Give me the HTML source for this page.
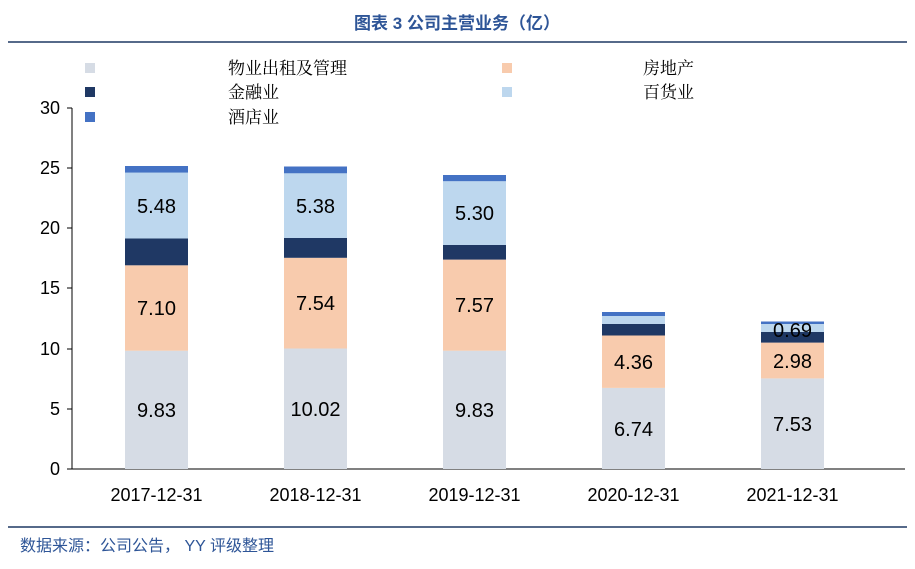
<!DOCTYPE html>
<html><head><meta charset="utf-8"><style>
body{margin:0;background:#fff;width:915px;height:564px;overflow:hidden;font-family:"Liberation Sans","Noto Sans CJK SC",sans-serif}
</style></head><body>
<svg width="915" height="564" xmlns="http://www.w3.org/2000/svg" font-family="Liberation Sans, Noto Sans CJK SC, sans-serif">
<text x="457" y="29" text-anchor="middle" font-size="17" font-weight="bold" fill="#2e5597">图表 3 公司主营业务（亿）</text>
<line x1="8" y1="42" x2="907" y2="42" stroke="#1f3864" stroke-width="1.5"/>
<line x1="8" y1="527" x2="907" y2="527" stroke="#1f3864" stroke-width="1.5"/>
<text x="20" y="551" font-size="16" fill="#2e5597">数据来源：公司公告， YY 评级整理</text>
<g font-family="'Noto Serif CJK SC', 'WenQuanYi Zen Hei', serif" font-size="17" fill="#000">
<rect x="85" y="63" width="10" height="10" fill="#d6dce5"/><text x="228" y="74">物业出租及管理</text>
<rect x="502" y="63" width="10" height="10" fill="#f8cbad"/><text x="643" y="74">房地产</text>
<rect x="85" y="87" width="10" height="10" fill="#1f3864"/><text x="228" y="98">金融业</text>
<rect x="502" y="87" width="10" height="10" fill="#bdd7ee"/><text x="643" y="98">百货业</text>
<rect x="85" y="112" width="10" height="10" fill="#4472c4"/><text x="228" y="123">酒店业</text>
</g>
<line x1="72" y1="108" x2="72" y2="469" stroke="#000"/>
<line x1="72" y1="469" x2="905" y2="469" stroke="#000"/>
<g font-size="18" text-anchor="end" fill="#000">
<text x="60" y="475">0</text><text x="60" y="415">5</text><text x="60" y="355">10</text>
<text x="60" y="294">15</text><text x="60" y="234">20</text><text x="60" y="174">25</text><text x="60" y="114">30</text>
</g>
<g stroke="#000"><line x1="67" y1="469" x2="72" y2="469"/><line x1="67" y1="409" x2="72" y2="409"/><line x1="67" y1="349" x2="72" y2="349"/><line x1="67" y1="288" x2="72" y2="288"/><line x1="67" y1="228" x2="72" y2="228"/><line x1="67" y1="168" x2="72" y2="168"/><line x1="67" y1="108" x2="72" y2="108"/></g>
<g>
<rect x="125" y="350.7" width="63" height="118.3" fill="#d6dce5"/>
<rect x="125" y="265.3" width="63" height="85.4" fill="#f8cbad"/>
<rect x="125" y="238.5" width="63" height="26.8" fill="#1f3864"/>
<rect x="125" y="172.6" width="63" height="65.9" fill="#bdd7ee"/>
<rect x="125" y="166" width="63" height="6.6" fill="#4472c4"/>
<rect x="284" y="348.5" width="63" height="120.5" fill="#d6dce5"/>
<rect x="284" y="257.8" width="63" height="90.7" fill="#f8cbad"/>
<rect x="284" y="238" width="63" height="19.8" fill="#1f3864"/>
<rect x="284" y="173.3" width="63" height="64.7" fill="#bdd7ee"/>
<rect x="284" y="166.5" width="63" height="6.8" fill="#4472c4"/>
<rect x="443" y="350.7" width="63" height="118.3" fill="#d6dce5"/>
<rect x="443" y="259.6" width="63" height="91.1" fill="#f8cbad"/>
<rect x="443" y="245" width="63" height="14.6" fill="#1f3864"/>
<rect x="443" y="181.2" width="63" height="63.8" fill="#bdd7ee"/>
<rect x="443" y="175" width="63" height="6.2" fill="#4472c4"/>
<rect x="602" y="387.9" width="63" height="81.1" fill="#d6dce5"/>
<rect x="602" y="335.5" width="63" height="52.4" fill="#f8cbad"/>
<rect x="602" y="324" width="63" height="11.5" fill="#1f3864"/>
<rect x="602" y="316" width="63" height="8" fill="#bdd7ee"/>
<rect x="602" y="312" width="63" height="4" fill="#4472c4"/>
<rect x="761" y="378.4" width="63" height="90.6" fill="#d6dce5"/>
<rect x="761" y="342.6" width="63" height="35.8" fill="#f8cbad"/>
<rect x="761" y="332" width="63" height="10.6" fill="#1f3864"/>
<rect x="761" y="324" width="63" height="8" fill="#bdd7ee"/>
<rect x="761" y="321.5" width="63" height="2.5" fill="#4472c4"/>
</g>
<g font-size="20" text-anchor="middle" fill="#000">
<text x="156.5" y="417">9.83</text><text x="156.5" y="315">7.10</text><text x="156.5" y="213">5.48</text>
<text x="315.5" y="416">10.02</text><text x="315.5" y="310">7.54</text><text x="315.5" y="213">5.38</text>
<text x="474.5" y="417">9.83</text><text x="474.5" y="312">7.57</text><text x="474.5" y="220">5.30</text>
<text x="633.5" y="436">6.74</text><text x="633.5" y="369">4.36</text>
<text x="792.5" y="431">7.53</text><text x="792.5" y="368">2.98</text><text x="792.5" y="337">0.69</text>
</g>
<g font-size="18" text-anchor="middle" fill="#000">
<text x="156.5" y="501">2017-12-31</text><text x="315.5" y="501">2018-12-31</text><text x="474.5" y="501">2019-12-31</text><text x="633.5" y="501">2020-12-31</text><text x="792.5" y="501">2021-12-31</text>
</g>
</svg>
</body></html>
